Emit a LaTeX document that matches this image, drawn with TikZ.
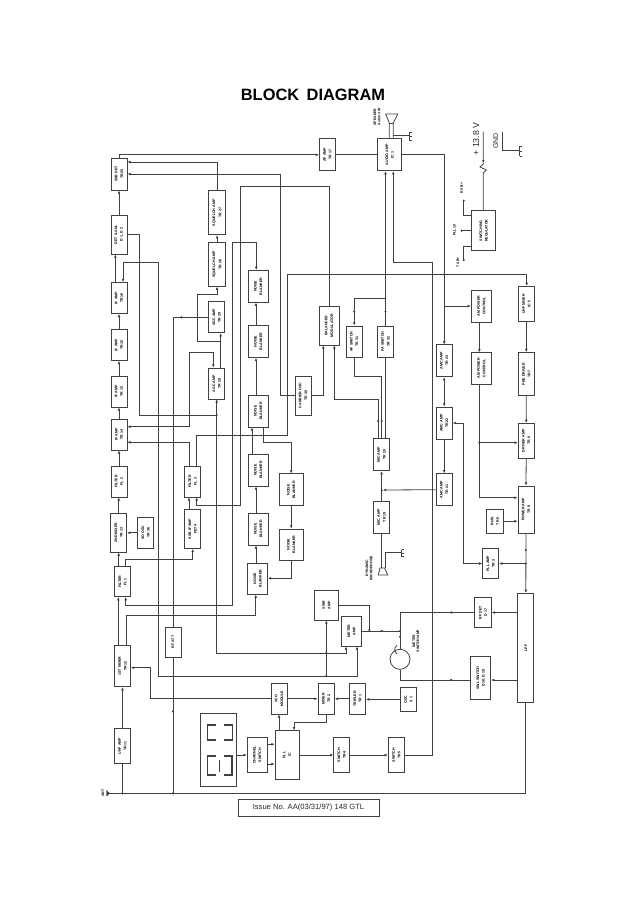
\documentclass[tikz,border=0pt]{standalone}
\usepackage{fontspec}
\setmainfont{Liberation Sans}
\usetikzlibrary{arrows.meta}
\definecolor{ink}{gray}{0.25}
\newcommand{\lab}[2]{\rotatebox{90}{\shortstack{#1\\#2}}}
\tikzset{
  blk/.style 2 args={draw,rectangle,inner sep=0pt,minimum width=#1pt,minimum height=#2pt,font=\fontsize{3.6}{4.1}\bfseries\selectfont,text=black},
  jdot/.style={fill,circle,inner sep=0pt,minimum size=2.4pt},
  side/.style={font=\fontsize{3.5}{4.1}\bfseries\selectfont,text=black,rotate=90,align=center},
}
\begin{document}
\begin{tikzpicture}[x=1pt,y=-1pt,color=ink,line width=.8pt,>={Latex[length=3.2pt,width=2.8pt]}]
\useasboundingbox (0,0) rectangle (638,903);
\node[font=\fontsize{16.4}{18}\bfseries\selectfont,text=black] (title) at (313,95) {BLOCK\hspace{3pt} DIAGRAM};
% receiver line
\node[blk={16}{32}] (ssbdet) at (119,174) {\lab{SSB DET}{TR 25}};
\node[blk={16}{39}] (det) at (119,234.5) {\lab{DET \& ANL}{D 1, D 2}};
\node[blk={16}{31}] (if4) at (119,298) {\lab{IF AMP}{TR 16}};
\node[blk={16}{31}] (if3) at (119,345) {\lab{IF AMP}{TR 16}};
\node[blk={16}{31}] (if2) at (119,391.5) {\lab{IF AMP}{TR 15}};
\node[blk={16}{31}] (if1) at (119,434.5) {\lab{IF AMP}{TR 14}};
\node[blk={16}{31}] (filterb) at (119,481.5) {\lab{FILTER}{FL 2}};
\node[blk={16}{39}] (mixb) at (118.7,532.7) {\lab{2ND MIXER}{TR 13}};
\node[blk={16}{31}] (oscb) at (145.7,532.8) {\lab{XO OSC}{TR 36}};
\node[blk={16}{30}] (filtera) at (122.5,581.7) {\lab{FILTER}{FL 1}};
\node[blk={16}{41.4}] (mixa) at (122.5,666) {\lab{1ST MIXER}{TR 12}};
\node[blk={16}{34.6}] (rfamp) at (122.5,746) {\lab{UHF AMP}{TR 11}};
\node[blk={16}{30}] (rfatt) at (173,642) {\rotatebox{90}{RF ATT}};
% squelch and agc
\node[blk={16.4}{44}] (sq1) at (217,212.7) {\lab{SQUELCH AMP}{TR 27}};
\node[blk={16.4}{43.6}] (sq2) at (217,264.5) {\lab{SQUELCH AMP}{TR 26}};
\node[blk={16}{31}] (agc1) at (216.7,317.3) {\lab{AGC AMP}{TR 28}};
\node[blk={16}{31}] (agc2) at (216.7,383.5) {\lab{AGC AMP}{TR 29}};
\node[blk={16}{31}] (filterc) at (192.7,481.5) {\lab{FILTER}{FL 3}};
\node[blk={16}{39}] (ssbif) at (192.7,529) {\lab{SSB IF AMP}{FET 4}};
% noise blanker
\node[blk={20}{32}] (nb1) at (258,286.3) {\lab{NOISE}{BLANKER}};
\node[blk={20}{32}] (nb2) at (258,341.5) {\lab{NOISE}{BLANKER}};
\node[blk={20}{32}] (nb3) at (258,411) {\lab{NOISE}{BLANKER}};
\node[blk={20}{32}] (nb4) at (258,470) {\lab{NOISE}{BLANKER}};
\node[blk={20}{32}] (nb5) at (258,529) {\lab{NOISE}{BLANKER}};
\node[blk={20}{31}] (nb6) at (257.5,578.7) {\lab{NOISE}{BLANKER}};
\node[blk={24}{32}] (nb7) at (291.2,489.8) {\lab{NOISE}{BLANKER}};
\node[blk={24}{31}] (nb8) at (291.2,544.5) {\lab{NOISE}{BLANKER}};
% modulator and audio
\node[blk={16}{39}] (carrier) at (303,395.5) {\lab{CARRIER OSC}{TR 30}};
\node[blk={20}{39}] (balmod) at (329,325.5) {\lab{BALANCED}{MODULATOR}};
\node[blk={16}{32}] (afamp) at (327.3,154.8) {\lab{AF AMP}{TR 17}};
\node[blk={24}{32}] (audio) at (389.7,154.8) {\lab{AUDIO AMP}{IC 1}};
\node[blk={16}{31.4}] (afsw) at (354.2,341.6) {\lab{AF SWITCH}{TR 31}};
\node[blk={16.4}{31.4}] (pasw) at (385.5,341.6) {\lab{PA SWITCH}{TR 32}};
\node[blk={16.4}{32}] (mica) at (381.5,454.8) {\lab{MIC AMP}{TR 20}};
\node[blk={16.4}{32}] (micb) at (381.5,517.2) {\lab{MIC AMP}{TR 19}};
\node[blk={16.4}{32}] (amc1) at (444.2,360.8) {\lab{AMC AMP}{TR 23}};
\node[blk={16.4}{32}] (amc2) at (444.2,423) {\lab{AMC AMP}{TR 22}};
\node[blk={16.4}{32}] (amc3) at (444.2,489.7) {\lab{AMC AMP}{TR 21}};
\node[blk={20}{32}] (apc1) at (481.3,306) {\lab{AM POWER}{CONTROL}};
\node[blk={20}{31.4}] (apc2) at (481.3,368.4) {\lab{AM POWER}{CONTROL}};
% transmitter line
\node[blk={16}{35.4}] (txmix) at (526.3,304) {\lab{UHF MIXER}{IC 5}};
\node[blk={16}{43}] (predrv) at (526.3,374) {\lab{PRE DRIVER}{TR 7}};
\node[blk={16}{35}] (driver) at (526.2,440.8) {\lab{DRIVER AMP}{TR 8}};
\node[blk={16}{47}] (power) at (526,509.5) {\lab{POWER AMP}{TR 9}};
\node[blk={16.4}{24}] (bias) at (494.8,521.2) {\lab{BIAS}{TR 6}};
\node[blk={16}{30}] (pllamp) at (490.7,563.5) {\lab{PLL AMP}{TR 3}};
\node[blk={16}{109.4}] (lpf) at (525.8,648) {\rotatebox{90}{LPF}};
\node[blk={16.6}{30.4}] (rfdet) at (483,612.5) {\lab{RF DET}{D 17}};
\node[blk={20}{42.6}] (swrsw) at (480.8,678) {\lab{SWL SWITCH}{D 18, D 19}};
\node[blk={24}{30}] (rxa) at (326.3,605) {\lab{SWR}{AMP}};
\node[blk={20.4}{30}] (rxb) at (351.5,631) {\lab{METER}{AMP}};
\node[draw,circle,inner sep=0pt,minimum size=20pt] (meter) at (400,659.3) {};
\node[side] (meterlab) at (416,641) {METER\\SWITCH/AMP};
% pll
\node[blk={16}{30.4}] (vco) at (279,698.8) {\lab{VCO}{MODULE}};
\node[blk={16.4}{30.4}] (pmix) at (326.2,698.8) {\lab{MIXER}{TR 2}};
\node[blk={16.4}{30.4}] (tripler) at (357.5,698.8) {\lab{TRIPLER}{TR 1}};
\node[blk={16}{23.4}] (xosc) at (408.3,699.4) {\lab{OSC}{X 1}};
\node[blk={24}{48.7}] (pll) at (287,755) {\lab{PLL}{IC}};
\node[blk={20}{35}] (chsw) at (257.2,755) {\lab{CHANNEL}{SWITCH}};
\node[blk={16}{35}] (swa) at (341.7,755) {\lab{SWITCH}{TR 4}};
\node[blk={16}{35}] (swb) at (396.3,755) {\lab{SWITCH}{TR 5}};
\node[draw,rectangle,inner sep=0pt,minimum width=35.7pt,minimum height=72.7pt] (display) at (218.2,749.7) {};
\draw[line width=1.1pt] (216,725) -| (207.3,740) -- (216,740);
\draw[line width=1.1pt] (224,725) -| (232.7,740) -- (224,740);
\draw[line width=1.1pt] (216,756) -| (207.3,775) -- (216,775);
\draw[line width=1.1pt] (224,756) -| (232,775) -- (224,775);
\draw[line width=1.3pt] (219.3,760) -- (219.3,772);
% power supply
\node[blk={24}{40}] (swreg) at (483.7,230.7) {\lab{SWITCHING}{REGULATOR}};
\coordinate (rxplus) at (463.7,200.7);
\coordinate (pllplus) at (461.7,230.7);
\coordinate (txplus) at (463.7,260);
\coordinate (fusea) at (483.3,160.7);
\coordinate (fuseb) at (483.3,175);
\node[jdot] (rxdot) at (rxplus) {};
\node[jdot] (plldot) at (pllplus) {};
\node[jdot] (txdot) at (txplus) {};
\node[jdot] (fusedot) at (fusea) {};
\node[side] (rxtext) at (461.7,188) {RX B+};
\node[side] (plltext) at (454.5,230) {PLL 10};
\node[side] (txtext) at (458,262) {TX B+};
\node[rotate=90,font=\fontsize{8.8}{9}\selectfont,text=black!85] (vtext) at (476,139) {+ 13.8 V};
\node[rotate=90,font=\fontsize{7}{8}\selectfont,text=black!85] (gndtext) at (495.7,141) {GND};
\node[side] (spktext) at (377,117) {SPEAKER\\4 ohm 3 W};
\node[side] (mictext) at (369,568) {DYNAMIC\\MICROPHONE};
\node[side] (anttext) at (103,793.3) {ANT};
\coordinate (ant) at (110,793.3);
\node[draw,rectangle,line width=.6pt,inner sep=0pt,minimum width=141pt,minimum height=17pt,font=\fontsize{7.6}{9}\selectfont,text=black!85] (issue) at (308.5,807.8) {Issue No. AA(03/31/97) 148 GTL};
% connectors, receiver line
\draw[->] (ssbdet.north) |- (afamp.west);
\draw[->] (det.north) -- (ssbdet.south);
\draw[->] (if4.north -| 115.3,0) -- (det.south -| 115.3,0);
\draw[->] (if3.north) -- (if4.south);
\draw[->] (if2.north) -- (if3.south);
\draw[->] (if1.north) -- (if2.south);
\draw[->] (filterb.north) -- (if1.south);
\draw[->] (mixb.north) -- (filterb.south -| mixb.north);
\draw[->] (oscb.west) -- (mixb.east |- oscb.west);
\draw[->] (filtera.north -| 118.7,0) -- (mixb.south);
\draw[->] (mixa.north -| 118.3,0) -- (filtera.south -| 118.3,0);
\draw[->] (rfamp.north) -- (mixa.south);
\draw (rfamp.south) -- (rfamp.south |- ant);
\draw (lpf.south) |- (ant);
\fill (ant) -- ++(-3.6,-3.2) -- ++(0,6.4) -- cycle;
\node[jdot] (antdot) at (rfamp.south |- ant) {};
\node[jdot] (attdot) at (rfatt.south |- ant) {};
\draw[->] (sq1.north) |- (ssbdet.east |- 0,162);
\draw[->] (carrier.west) -| (280,174) -- (ssbdet.east |- 0,174);
\draw[->] (balmod.north) |- (240.7,186.7) -- (240.7,505.7) -- (196.7,505.7) -- (filterc.south -| 196.7,0);
\draw (det.east) -| (139,415) -- (216.7,415);
\node[jdot] (agcdot) at (216.7,415) {};
\draw[->] (agc2.south) -- (216.7,653) -| (rxb.south -| 346,0);
\draw[<-] (agc2.south) -- (216.7,408);
\draw[<->] (if4.north -| 123,0) |- (158,262) -- (158,676) -| (rxb.south -| 357,0);
\draw (agc1.west) -| (rfatt.north);
\draw[->] (agc1.west) -- (179,317.3);
\draw (rfatt.south) -- (rfatt.south |- ant);
\node[jdot] (vdot) at (173,711.3) {};
\draw[->] (sq2.north) -- (sq1.south);
\draw[->] (agc2.north -| 220.7,0) -- (agc1.south -| 220.7,0);
\draw[->] (220.7,341.3) -| (197,294.3) -| (sq2.south);
\draw[<->] (if1.east |- 0,426.7) -| (189.7,352.7) -| (agc2.north -| 213.3,0);
\draw[->] (filterc.north -| 189,0) |- (if1.east |- 0,442.3);
\draw[->] (ssbif.north -| 189,0) -- (filterc.south -| 189,0);
\draw[->] (filtera.north -| 125.7,0) |- (192.7,559) -- (ssbif.south);
\draw[<->] (filtera.south -| 125.7,0) |- (232.5,605) |- (256.3,242.7) -- (nb1.north -| 256.3,0);
\draw[->] (mixa.north -| 126,0) |- (255.7,615.7) -- (nb6.south -| 255.7,0);
% connectors, noise blanker
\draw[->] (nb2.north -| 256,0) -- (nb1.south -| 256,0);
\draw[->] (nb3.north -| 256,0) -- (nb2.south -| 256,0);
\draw[->] (nb4.north -| 252,0) -- (nb3.south -| 252,0);
\draw[->] (nb5.north -| 256,0) -- (nb4.south -| 256,0);
\draw[->] (nb6.north -| 256,0) -- (nb5.south -| 256,0);
\draw[->] (nb3.south -| 263.3,0) |- (291.2,442.7) -- (nb7.north);
\draw[->] (nb7.south) -- (nb8.north);
\draw[->] (nb8.south) |- (nb6.east |- 0,578.3);
\draw[->] (filterc.north -| 196.7,0) |- (287.3,435) |- (526.7,274.3) -- (txmix.north -| 526.7,0);
% connectors, audio
\draw (afamp.east) -- (audio.west);
\draw[->] (audio.east) -| (amc1.north);
\draw[->] (444.2,306) -- (apc1.west);
\node[jdot] (audiodot) at (444.2,274.3) {};
\draw[->] (pasw.north) -- (audio.south -| pasw.north);
\draw[->] (385.5,298.3) -| (afsw.north);
\node[jdot] (padot) at (385.5,311.7) {};
\node[jdot] (afdot) at (354.2,311.7) {};
\draw[->] (swb.east) -| (432,262) -| (audio.south -| 393.3,0);
\draw (afsw.south) |- (381.7,376) -- (mica.north -| 381.7,0);
\draw (pasw.south) -- (mica.north -| pasw.south);
\draw[->] (carrier.east) -| (balmod.south -| 323.3,0);
\draw[<-] (balmod.south -| 334.3,0) |- (378,399) -- (mica.north -| 378,0);
\node[jdot] (moda) at (378,421) {};
\node[jdot] (modb) at (381.7,421) {};
\draw[->] (micb.north) -- (mica.south);
\draw[->] (amc3.west) -- (383,490);
\draw (383,490) -- (micb.north |- 0,490);
\draw[<->] (amc1.south) -- (amc2.north);
\draw[->] (amc2.south) -- (amc3.north);
\draw[<->] (amc2.east) -| (463.3,563.5) -- (pllamp.west);
\draw[->] (525.8,563.5) -- (pllamp.east);
\node[jdot] (pllampdot) at (525.8,563.5) {};
\node[jdot] (pwrdot) at (525.8,550) {};
\draw (micb.south) -- (381.5,568);
\draw (378.3,575) -- (387.7,575) -- (384.5,568) -- (380,568) -- cycle;
\coordinate (gndmic) at (400,552.7);
\draw (385,568) |- (gndmic);
\draw (401.5,549.5) -- (401.5,556.5) (gndmic) -- (401.5,552.7) (401.5,549.5) -- (403.5,549.5) (401.5,553) -- (403.5,553) (401.5,556.5) -- (403.5,556.5);
% connectors, transmitter
\draw[->] (apc1.south -| 479.3,0) -- (apc2.north -| 479.3,0);
\draw[->] (apc2.south -| 479.3,0) |- (power.west |- 0,497.7);
\draw[->] (479.3,442.7) -- (driver.west |- 0,442.7);
\node[jdot] (apcdot) at (479.3,442.7) {};
\draw[->] (txmix.south) -- (predrv.north);
\draw[->] (predrv.south) -- (driver.north);
\draw[->] (driver.south) -- (power.north);
\draw[->] (power.south) -- (lpf.north);
\draw[->] (bias.east) -- (power.west |- bias.east);
\draw[->] (lpf.west |- rfdet.east) -- (rfdet.east);
\draw (rfdet.west) -| (meter.north);
\draw[->] (rfdet.west) -- (449,612.5);
\draw[->] (lpf.west |- 0,680) -- (swrsw.east |- 0,680);
\draw (meter.south) |- (swrsw.west |- 0,680);
\draw[->] (swrsw.west |- 0,680) -- (449,680);
\draw (rxa.east) -| (369.3,631);
\draw (rxb.east) -- (meter.north |- rxb.east);
\draw[->] (rxb.east) -- (384,631);
\node[jdot] (rxadot) at (369.3,630) {};
\node[jdot] (metera) at (400,631) {};
\node[jdot] (meterb) at (400,636.7) {};
\draw[->] (326.3,676) -- (rxa.south);
\node[jdot] (rxdota) at (326.3,676) {};
\node[jdot] (rxdotb) at (326.3,653) {};
\draw (397,654) arc[start angle=120,end angle=240,radius=5];
% connectors, pll
\draw[->] (xosc.west) -- (tripler.east |- xosc.west);
\draw[->] (tripler.west) -- (pmix.east);
\draw[->] (vco.east) -- (pmix.west);
\draw[->] (pmix.south) |- (294,722) -- (pll.north -| 294,0);
\draw[->] (pll.north -| 279,0) -- (vco.south);
\draw[->] (vco.west) -| (150,667.7) -- (mixa.east |- 0,667.7);
\draw[->] (display.east |- chsw.west) -- (chsw.west);
\draw[->] (chsw.east |- 0,744.3) -- (pll.west |- 0,744.3);
\draw[->] (chsw.east |- 0,764) -- (pll.west |- 0,764);
\draw[->] (pll.east) -- (swa.west);
\draw[->] (swa.east) -- (swb.west);
% connectors, supply
\draw (483.3,131.7) -- (fusea) -- (483.3,164) -- (480,167) -- (486.3,170) -- (483.3,173) -- (fuseb) -- (483.3,210.7);
\draw (swreg.west |- 0,215) -| (rxplus);
\draw (swreg.west |- 0,230.7) -- (pllplus);
\draw (swreg.west |- 0,246) -| (txplus);
\coordinate (gndbat) at (519,150.3);
\draw (502.7,131.7) |- (gndbat);
\draw (519.5,146) -- (519.5,156) (519.5,146) -- (522,146) (519.5,151) -- (522,151) (519.5,156) -- (522,156);
% speaker
\draw (audio.north -| 389.3,0) -- (389.3,123) -- (385.7,114) -- (397.7,114) -- (393.3,123) -- (audio.north -| 393.3,0);
\draw (389.3,123) -- (393.3,123);
\coordinate (gndspk) at (409.3,135);
\draw (393.3,135) -- (gndspk);
\draw (409.3,132) -- (409.3,140) (409.3,132) -- (412,132) (409.3,136) -- (412,136) (409.3,140) -- (412,140);
\end{tikzpicture}
\end{document}
